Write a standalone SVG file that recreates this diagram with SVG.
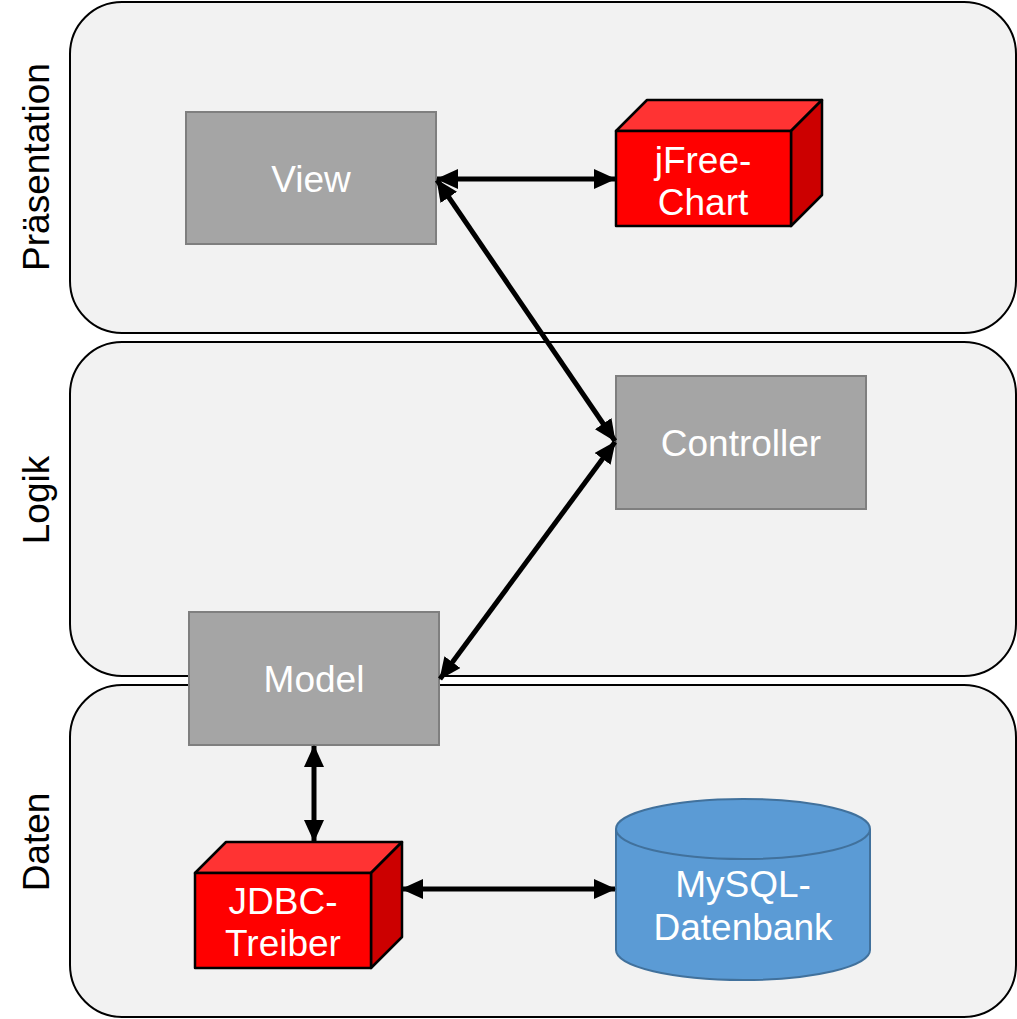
<svg xmlns="http://www.w3.org/2000/svg" width="1017" height="1019" viewBox="0 0 1017 1019">
<style>
.layer{fill:#f2f2f2;stroke:#000;stroke-width:2}
.box{fill:#a5a5a5;stroke:#7f7f7f;stroke-width:2}
.lbl{font-family:"Liberation Sans",Arial,sans-serif;font-size:37px;fill:#fff;text-anchor:middle}
.side{font-family:"Liberation Sans",Arial,sans-serif;font-size:37px;fill:#000;text-anchor:middle}
.front{fill:#ff0000;stroke:#000;stroke-width:2.5;stroke-linejoin:round}
.top{fill:#ff3333;stroke:#000;stroke-width:2.5;stroke-linejoin:round}
.right{fill:#cc0000;stroke:#000;stroke-width:2.5;stroke-linejoin:round}
.conn{stroke:#000;stroke-width:5;fill:none;marker-start:url(#ah);marker-end:url(#ah)}
</style>
<defs>
<marker id="ah" viewBox="0 0 22 20" refX="21" refY="10" markerWidth="22" markerHeight="20" markerUnits="userSpaceOnUse" orient="auto-start-reverse">
<path d="M0,0 L22,10 L0,20 Z" fill="#000"/>
</marker>
</defs>
<g id="layer-praesentation">
<rect class="layer" x="70" y="2" width="946" height="331" rx="52"/>
<text class="side" transform="translate(49,167) rotate(-90)">Präsentation</text>
</g>
<g id="layer-logik">
<rect class="layer" x="70" y="342" width="946" height="334" rx="52"/>
<text class="side" transform="translate(49,500) rotate(-90)">Logik</text>
</g>
<g id="layer-daten">
<rect class="layer" x="70" y="685" width="946" height="332" rx="52"/>
<text class="side" transform="translate(49,842) rotate(-90)">Daten</text>
</g>
<g id="view">
<rect class="box" x="186" y="112" width="250" height="132"/>
<text class="lbl" x="311" y="192">View</text>
</g>
<g id="controller">
<rect class="box" x="616" y="376" width="250" height="133"/>
<text class="lbl" x="741" y="456">Controller</text>
</g>
<g id="model">
<rect class="box" x="189" y="612" width="250" height="133"/>
<text class="lbl" x="314" y="692">Model</text>
</g>
<g id="jfreechart">
<polygon class="top" points="616,131 647,100 822,100 791,131"/>
<polygon class="right" points="791,131 822,100 822,195 791,226"/>
<rect class="front" x="616" y="131" width="175" height="95"/>
<text class="lbl" x="703" y="173">jFree-</text>
<text class="lbl" x="703" y="215">Chart</text>
</g>
<g id="jdbc">
<polygon class="top" points="195,873 226,842 402,842 371,873"/>
<polygon class="right" points="371,873 402,842 402,937 371,968"/>
<rect class="front" x="195" y="873" width="176" height="95"/>
<text class="lbl" x="283" y="914">JDBC-</text>
<text class="lbl" x="283" y="956">Treiber</text>
</g>
<g id="mysql">
<path d="M616,829 L616,950 A127,30 0 0 0 870,950 L870,829" fill="#5b9bd5" stroke="#41719c" stroke-width="2"/>
<ellipse cx="743" cy="829" rx="127" ry="30" fill="#5b9bd5" stroke="#41719c" stroke-width="2"/>
<text class="lbl" x="743" y="897">MySQL-</text>
<text class="lbl" x="743" y="940">Datenbank</text>
</g>
<g id="connectors">
<line class="conn" x1="437" y1="179" x2="615" y2="179"/>
<line class="conn" x1="437" y1="180" x2="615" y2="441"/>
<line class="conn" x1="615" y1="442" x2="440" y2="679"/>
<line class="conn" x1="314" y1="746" x2="314" y2="841"/>
<line class="conn" x1="402" y1="889" x2="615" y2="889"/>
</g>
</svg>
